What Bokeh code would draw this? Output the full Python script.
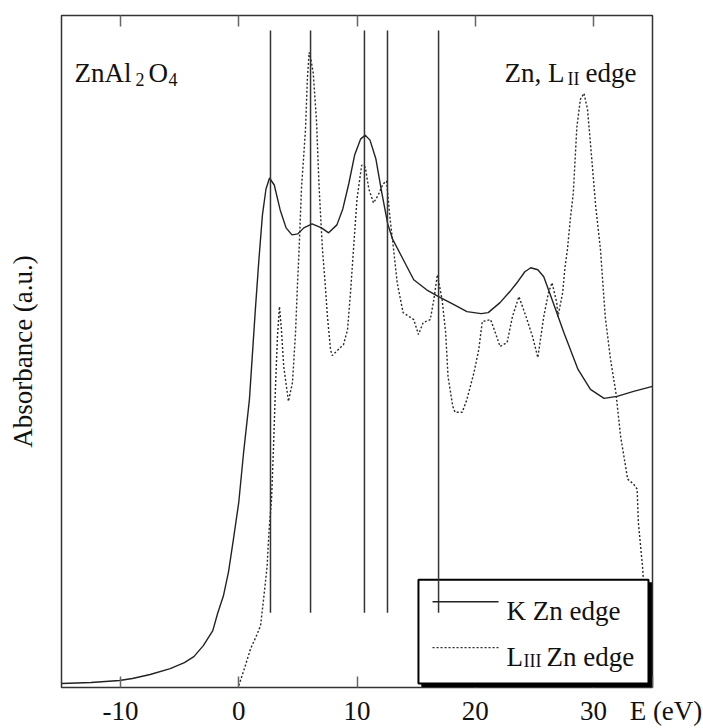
from bokeh.plotting import figure
from bokeh.models import Range1d, LinearAxis, FixedTicker, Label, BoxAnnotation, ColumnDataSource
from bokeh.embed import file_html
from bokeh.resources import INLINE

# ---------------- data ----------------
x_ticks = [-10, 0, 10, 20, 30]
x_tick_labels = ["-10", "0", "10", "20", "30"]
x_title = "E (eV)"

k_edge_E = [-15.0, -12.5, -10.1, -9.0, -7.5, -5.8, -4.6, -3.8, -3.0, -2.2, -1.8, -1.3, -0.87, -0.45,
            0.0, 0.4, 0.9, 1.4, 1.7, 2.0, 2.3, 2.6, 3.0, 3.5, 4.0, 4.5, 5.0, 5.5, 6.2, 7.0, 7.6,
            8.3, 8.8, 9.3, 9.8, 10.3, 10.7, 11.1, 11.6, 12.1, 12.6, 13.0, 13.7, 14.8, 16.0, 16.9,
            18.2, 19.3, 20.5, 21.1, 22.1, 23.0, 23.6, 24.2, 24.7, 25.3, 25.8, 26.6, 27.5, 28.7,
            29.75, 30.9, 32.0, 33.4, 35.0]
k_edge_A = [4, 5, 7, 9, 13, 19, 25, 31, 42, 57, 74, 92, 116, 149,
            186, 235, 289, 379, 429, 474, 500, 511, 504, 479, 461, 454, 455, 461, 465, 461, 456,
            464, 480, 505, 534, 550, 554, 549, 530, 496, 465, 450, 434, 409, 398, 392,
            384, 377, 375, 376, 386, 398, 407, 417, 421, 419, 412, 386, 356, 319,
            299, 290, 292, 297, 302]

l3_edge_E = [0.0, 0.5, 1.0, 1.5, 1.84, 2.1, 2.4, 2.55, 2.77, 2.93, 3.1, 3.27, 3.44, 3.6, 3.8, 4.2,
             4.54, 4.8, 4.97, 5.1, 5.3, 5.64, 5.8, 5.95, 6.1, 6.3, 6.57, 6.8, 7.08, 7.3, 7.5, 7.76,
             7.9, 8.86, 9.2, 9.45, 9.7, 10.0, 10.4, 10.7, 11.0, 11.4, 11.8, 12.2, 12.5, 12.8, 13.1,
             13.4, 13.9, 14.8, 15.2, 15.6, 16.2, 16.5, 16.8, 17.2, 17.5, 17.7, 18.1, 18.3, 18.9,
             19.3, 19.9, 20.3, 20.6, 21.3, 21.7, 22.1, 22.7, 23.15, 23.7, 24.3, 24.85, 25.3, 25.8,
             26.2, 26.5, 26.9, 27.0, 27.4, 27.6, 27.8, 28.05, 28.3, 28.6, 28.9, 29.2, 29.5, 29.75,
             30.2, 30.6, 31.0, 31.45, 31.9, 32.3, 32.9, 33.4, 33.7, 33.8, 34.15, 34.4]
l3_edge_A = [2, 20, 39, 52, 62, 89, 122, 156, 189, 239, 300, 352, 382, 360, 322, 287,
             306, 356, 406, 439, 500, 559, 610, 637, 630, 616, 569, 500, 439, 406, 372, 339,
             333, 344, 359, 396, 439, 490, 524, 522, 500, 486, 494, 505, 508, 470, 439,
             406, 376, 369, 354, 366, 369, 389, 414, 389, 356, 312, 282, 276, 276,
             289, 316, 339, 367, 369, 356, 342, 346, 372, 392, 372, 352, 331, 372,
             396, 406, 386, 372, 396, 422, 439, 470, 496, 562, 590, 596, 580, 546,
             482, 439, 372, 329, 296, 252, 209, 204, 199, 166, 122, 80]

peak_E = [2.68, 6.07, 10.63, 12.58, 16.9]

# ---------------- layout constants ----------------
FONT = "Liberation Serif"
BIG = "27px"
SMALL = "18px"
INK = "#111111"
X_MIN, X_MAX = -15, 35
LINE_BOTTOM, LINE_TOP = 75, 659
DOT = "2 2"

p = figure(width=703, height=728, x_range=Range1d(X_MIN, X_MAX), y_range=Range1d(0, 674),
           output_backend="svg", toolbar_location=None,
           min_border_left=61, min_border_right=51, min_border_top=15, min_border_bottom=39)
p.grid.visible = False
p.outline_line_color = "#333333"
p.outline_line_width = 1.5
p.background_fill_color = "white"
p.border_fill_color = "white"

# bottom axis: numeric ticks plus the axis title placed at the right end of the axis
overrides = {t: s for t, s in zip(x_ticks, x_tick_labels)}
overrides[X_MAX] = "\u00a0\u00a0\u00a0\u00a0" + x_title
xa = p.xaxis[0]
xa.ticker = FixedTicker(ticks=x_ticks + [X_MAX])
xa.major_label_overrides = overrides
xa.major_tick_in = 11
xa.major_tick_out = 0
xa.major_tick_line_color = "#666666"
xa.major_tick_line_width = 1.5
xa.minor_tick_line_color = None
xa.axis_line_color = None
xa.major_label_text_font = FONT
xa.major_label_text_font_size = BIG
xa.major_label_text_color = INK
xa.major_label_standoff = 8

top = LinearAxis(ticker=FixedTicker(ticks=x_ticks), major_label_overrides={t: "" for t in x_ticks},
                 major_label_text_font_size="1px",
                 major_label_standoff=0, major_tick_in=11, major_tick_out=0,
                 major_tick_line_color="#666666", major_tick_line_width=1.5,
                 minor_tick_line_color=None, axis_line_color=None)
p.add_layout(top, "above")

ya = p.yaxis[0]
ya.ticker = FixedTicker(ticks=[])
ya.major_tick_line_color = None
ya.minor_tick_line_color = None
ya.axis_line_color = None
ya.major_label_standoff = 0
ya.axis_label = "Absorbance (a.u.)"
ya.axis_label_text_font = FONT
ya.axis_label_text_font_size = BIG
ya.axis_label_text_font_style = "normal"
ya.axis_label_text_color = INK
ya.axis_label_standoff = 24

# curves
p.line(k_edge_E, k_edge_A, line_color="#222222", line_width=1.4)
p.line(l3_edge_E, l3_edge_A, line_color="#2a2a2a", line_width=1.4, line_dash=DOT)

# legend box (shadow + box)
LEG_L, LEG_R, LEG_T, LEG_B = 15.2, 34.66, 108, 4
SH_DX, SH_DY = 0.28, 3
p.add_layout(BoxAnnotation(left=LEG_L + SH_DX, right=LEG_R + SH_DX, top=LEG_T - SH_DY, bottom=LEG_B - SH_DY,
                           fill_color="black", fill_alpha=1, line_color="black", line_alpha=1))
p.add_layout(BoxAnnotation(left=LEG_L, right=LEG_R, top=LEG_T, bottom=LEG_B,
                           fill_color="white", fill_alpha=1, line_color="black", line_alpha=1,
                           line_width=2))

# vertical marker lines (over the legend box)
src = ColumnDataSource(dict(x=peak_E, y0=[LINE_BOTTOM] * len(peak_E), y1=[LINE_TOP] * len(peak_E)))
p.segment(x0="x", y0="y0", x1="x", y1="y1", source=src, line_color="#333333", line_width=1.5, level="overlay")

# legend samples
SAMP_X0, SAMP_X1 = 16.39, 21.97
p.segment(x0=[SAMP_X0], y0=[86], x1=[SAMP_X1], y1=[86], line_color="#222222", line_width=1.4, level="overlay")
p.segment(x0=[SAMP_X0], y0=[40], x1=[SAMP_X1], y1=[40], line_color="#2a2a2a", line_width=1.4,
          line_dash=DOT, level="overlay")

def txt(x, y, s, size=BIG):
    p.add_layout(Label(x=x, y=y, text=s, text_font=FONT, text_font_size=size, text_color=INK,
                       text_baseline="alphabetic", text_align="left"))

txt(22.65, 77, "K Zn edge")
txt(22.65, 31, "L")
txt(24.09, 27, "III", SMALL)
txt(26.04, 31, "Zn edge")

# annotations
txt(-13.9, 616, "ZnAl")
txt(-8.74, 610, "2", SMALL)
txt(-7.64, 616, "O")
txt(-5.95, 610, "4", SMALL)
txt(22.48, 616, "Zn, L")
txt(27.8, 610, "II", SMALL)
txt(29.33, 616, "edge")

open("out.html", "w").write(file_html(p, INLINE))
